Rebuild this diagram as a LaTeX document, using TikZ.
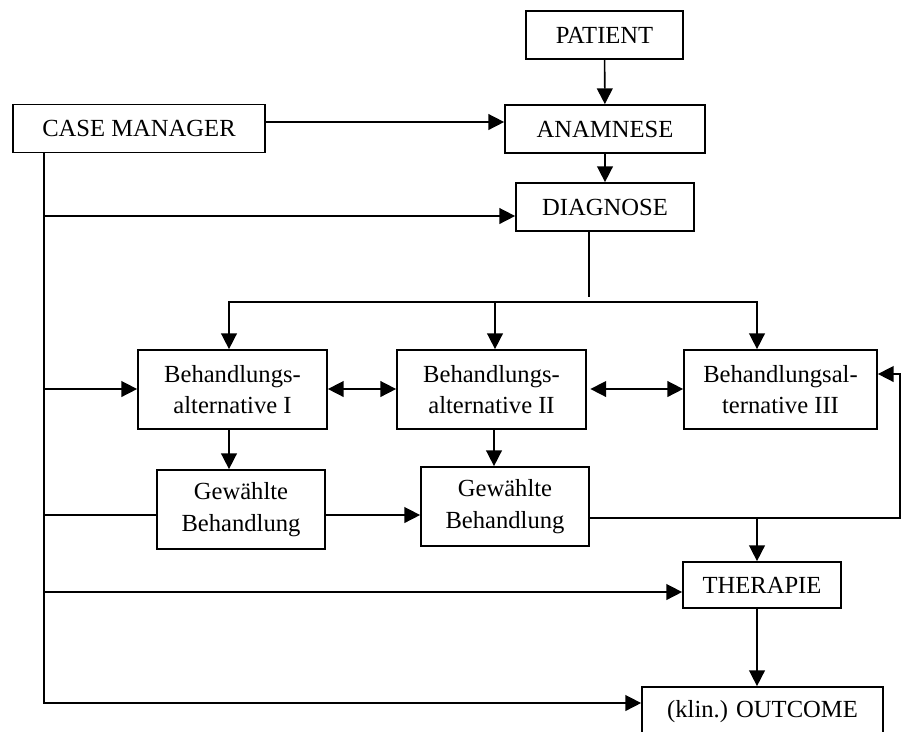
\documentclass[tikz,border=0pt]{standalone}
\usepackage{fontspec}
\setmainfont{Liberation Serif}
\usetikzlibrary{arrows.meta}

\begin{document}
\begin{tikzpicture}[x=0.02cm,y=-0.02cm,
	kasten/.style={draw,line width=1pt,align=center,inner sep=2pt,
		font=\fontsize{14}{17.8}\selectfont},
	pfeil/.style={line width=0.9pt,-{Triangle[length=9pt,width=9pt]}},
	doppelpfeil/.style={line width=0.9pt,{Triangle[length=9pt,width=9pt]}-{Triangle[length=9pt,width=9pt]}},
	linie/.style={line width=0.9pt}]
	%\draw[help lines] (0,0) grid[step=50] (901,731);
	\useasboundingbox (0,0) rectangle (901,731);
	\clip (0,0) rectangle (901,731);
	\node[kasten,minimum width=3.14cm,minimum height=0.96cm] (patient) at (604.5,35) {PATIENT};
	\node[kasten,minimum width=4cm,minimum height=0.96cm] (anamnese) at (605,129) {ANAMNESE};
	\node[kasten,minimum width=3.56cm,minimum height=0.96cm] (diagnose) at (605,207) {DIAGNOSE};
	\node[kasten,minimum width=5.04cm,minimum height=0.96cm] (casemgr) at (139,128.5) {CASE MANAGER};
	\node[kasten,minimum width=3.78cm,minimum height=1.58cm] (altI) at (232.5,389.5) {Behandlungs-\\alternative I};
	\node[kasten,minimum width=3.78cm,minimum height=1.58cm] (altII) at (491.5,389.5) {Behandlungs-\\alternative II};
	\node[kasten,minimum width=3.86cm,minimum height=1.58cm] (altIII) at (780.5,389.5) {Behandlungsal-\\ternative III};
	\node[kasten,minimum width=3.36cm,minimum height=1.58cm] (gewI) at (241,509.5) {Gewählte\\Behandlung};
	\node[kasten,minimum width=3.36cm,minimum height=1.58cm] (gewII) at (505,506.5) {Gewählte\\Behandlung};
	\node[kasten,minimum width=3.16cm,minimum height=0.92cm] (therapie) at (762,585) {THERAPIE};
	\node[kasten,minimum width=4.82cm,minimum height=1cm] (outcome) at (762.5,712) {(klin.) OUTCOME};

	\draw[pfeil] (patient) -- (anamnese);
	\draw[pfeil] (anamnese) -- (diagnose);
	\draw[pfeil] (casemgr.east |- 0,122) -- (anamnese.west |- 0,122);

	% case manager
	\draw[pfeil] (casemgr.south -| 44,0) |- (outcome.west |- 0,703);
	\draw[pfeil] (44,216) -- (diagnose.west |- 0,216);
	\draw[pfeil] (44,389) -- (altI.west |- 0,389);
	\draw[linie] (44,515) -- (gewI.west |- 0,515);
	\draw[pfeil] (44,592) -- (therapie.west |- 0,592);

	% alternativen
	\draw[linie] (diagnose.south -| 589,0) -- (589,297);
	\draw[pfeil] (589,302) -| (altI.north -| 229,0);
	\draw[pfeil] (589,302) -| (altIII.north -| 757,0);
	\draw[pfeil] (495,302) -- (altII.north -| 495,0);
	\draw[doppelpfeil] (altI.east |- 0,389) -- (altII.west |- 0,389);
	\draw[doppelpfeil] ([xshift=2pt]altII.east |- 0,389) -- (altIII.west |- 0,389);

	\draw[pfeil] (altI.south -| 229,0) -- (gewI.north -| 229,0);
	\draw[pfeil] (altII.south -| 494,0) -- (gewII.north -| 494,0);
	\draw[pfeil] (gewI.east |- 0,515) -- (gewII.west |- 0,515);
	\draw[pfeil] (gewII.east |- 0,518) -| (900,374) -- (altIII.east |- 0,374);
	\draw[pfeil] (757,518) -- (therapie.north -| 757,0);
	\draw[pfeil] (therapie.south -| 757,0) -- (outcome.north -| 757,0);
\end{tikzpicture}
\end{document}
